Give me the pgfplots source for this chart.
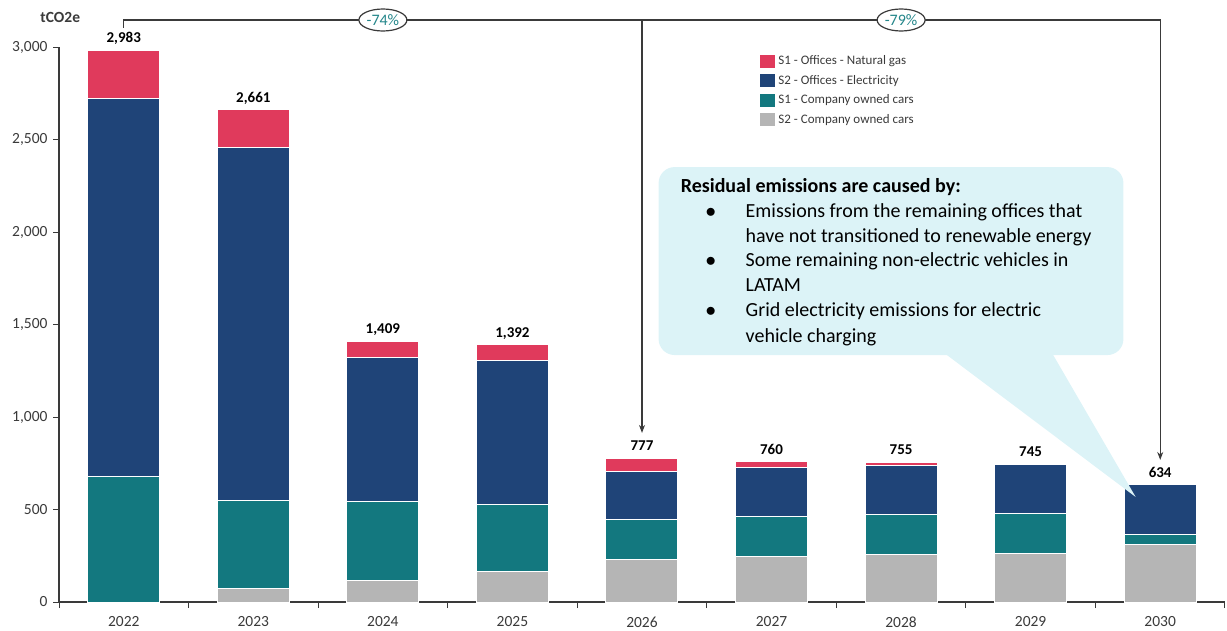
\documentclass[border=0pt]{standalone}
\usepackage{pgfplots}
\pgfplotsset{compat=1.18}
\usepackage{pgfplotstable}
\usepackage{fontspec}
\setmainfont{Carlito}
\usetikzlibrary{arrows.meta,shapes.geometric}
\definecolor{cgas}{HTML}{E03A5C}
\definecolor{celec}{HTML}{1F4478}
\definecolor{ccar1}{HTML}{13787F}
\definecolor{ccar2}{HTML}{B5B5B5}
\definecolor{callout}{HTML}{DCF3F7}
\definecolor{axgray}{HTML}{3A3A3A}
\definecolor{pcttext}{HTML}{23868A}
\tikzset{ctext/.style={anchor=base west, inner sep=0pt, font=\fontsize{20}{24}\selectfont, text=black}}

\pgfplotstableread{
x gray teal navy red total
0 0   680 2043 260 2983
1 74  473 1911 203 2661
2 117 427 779  86  1409
3 164 365 778  85  1392
4 231 216 258  72  777
5 245 216 264  35  760
6 257 216 264  18  755
7 263 216 266  0   745
8 313 54  267  0   634
}\data

\pgfplotsset{common/.style={
  at={(59pt,-602pt)}, anchor=south west,
  scale only axis, width=1166pt, height=555pt,
  xmin=-0.5, xmax=8.5, ymin=0, ymax=3000, clip=false,
  /pgf/number format/.cd, 1000 sep={,}, assume math mode=true, /pgfplots/.cd}}

\begin{document}
\begin{tikzpicture}
\useasboundingbox (0,0) rectangle (1227pt,-630pt);
\begin{axis}[
  common,
  axis lines=left,
  axis line style={-, draw=axgray, line width=1.3pt},
  ybar stacked, bar width=72pt,
  xtick={0,...,8},
  xticklabels={2022,2023,2024,2025,2026,2027,2028,2029,2030},
  major x tick style={draw=none},
  minor xtick={-0.5,0.5,...,8.5},
  minor tick length=6pt,
  minor x tick style={draw=axgray, line width=1pt},
  ytick={0,500,...,3000},
  major tick length=6pt,
  y tick style={draw=axgray, line width=1pt},
  tick align=outside,
  tick label style={font=\fontsize{15.5}{17}\selectfont, text=axgray},
  xticklabel style={yshift=-5pt},
  yticklabel style={xshift=-2pt},
  legend style={at={(0.598,0.992)}, anchor=north west, draw=none, fill=none,
    font=\fontsize{13}{15}\selectfont, row sep=4.5pt, text=axgray},
  legend cell align=left,
  reverse legend,
  legend image code/.code={\fill[#1] (0pt,-7pt) rectangle (16pt,7pt);},
]
\addplot[fill=ccar2, draw=white, line width=1pt] table[x=x,y=gray]{\data};
\addplot[fill=ccar1, draw=white, line width=1pt] table[x=x,y=teal]{\data};
\addplot[fill=celec, draw=white, line width=1pt] table[x=x,y=navy]{\data};
\addplot[fill=cgas, draw=white, line width=1pt] table[x=x,y=red]{\data};
\legend{S2 - Company owned cars, S1 - Company owned cars, S2 - Offices - Electricity, S1 - Offices - Natural gas}
\end{axis}

% totals above the bars
\begin{axis}[common, hide axis]
\addplot[draw=none, mark=none, nodes near coords, point meta=explicit,
  nodes near coords style={font=\bfseries\fontsize{15}{17}\selectfont, text=black, anchor=base, yshift=7.4pt}]
  table[x=x,y=total,meta=total]{\data};
\end{axis}

% annotations in data units (x: category index, y: tCO2e)
\begin{scope}[x=129.556pt, y=0.185pt, shift={(123.78pt,-602pt)}]
\fill[callout, rounded corners=16pt] (4.128,1335) rectangle (7.716,2351);
\fill[callout] (6.23,1400) -- (7.12,1400) -- (7.81,568) -- cycle;
\node[ctext] at (4.298,2216) {\bfseries Residual emissions are caused by:};
\node[ctext] at (4.490,2081) {$\bullet$};
\node[ctext] at (4.799,2081) {Emissions from the remaining offices that};
\node[ctext] at (4.799,1946) {have not transitioned to renewable energy};
\node[ctext] at (4.490,1811) {$\bullet$};
\node[ctext] at (4.799,1811) {Some remaining non-electric vehicles in};
\node[ctext] at (4.799,1676) {LATAM};
\node[ctext] at (4.490,1541) {$\bullet$};
\node[ctext] at (4.799,1541) {Grid electricity emissions for electric};
\node[ctext] at (4.799,1405) {vehicle charging};

\draw[axgray, line width=1.2pt, -{Stealth[length=8pt,width=6pt]}] (0,3103) -- (0,3146) -- (8,3146) -- (8,768);
\draw[axgray, line width=1.2pt, -{Stealth[length=8pt,width=6pt]}] (4,3146) -- (4,914);
\node[ellipse, draw=axgray, fill=white, line width=1.2pt, text=pcttext, inner sep=0pt,
  minimum width=48pt, minimum height=22pt, font=\fontsize{16}{18}\selectfont] at (2,3146) {-74\%};
\node[ellipse, draw=axgray, fill=white, line width=1.2pt, text=pcttext, inner sep=0pt,
  minimum width=48pt, minimum height=22pt, font=\fontsize{16}{18}\selectfont] at (6,3146) {-79\%};
\node[font=\bfseries\fontsize{15.5}{17}\selectfont, text=axgray] at (-0.49,3157) {tCO2e};
\end{scope}
\end{tikzpicture}
\end{document}
